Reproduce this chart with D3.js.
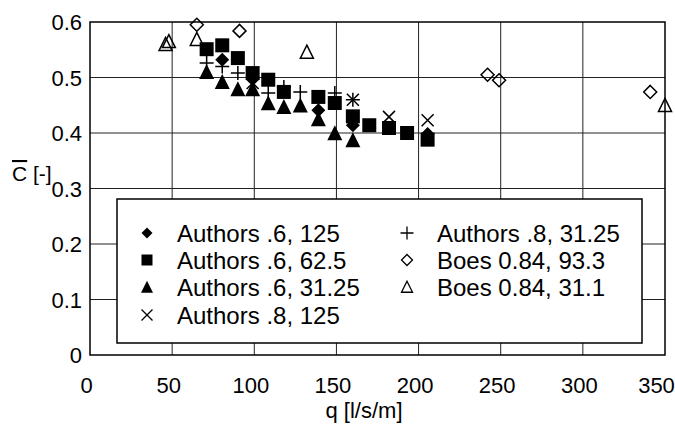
<!DOCTYPE html>
<html>
<head>
<meta charset="utf-8">
<script src="https://cdn.jsdelivr.net/npm/d3@7"></script>
<style>
  html, body { margin: 0; padding: 0; background: #fff; }
  svg { display: block; font-family: "Liberation Sans", Arial, sans-serif; }
</style>
</head>
<body>
<svg id="chart" width="675" height="429"></svg>
<script>
// ---- data ----
const xTicks = [0, 50, 100, 150, 200, 250, 300, 350];
const yTicks = [0, 0.1, 0.2, 0.3, 0.4, 0.5, 0.6];
const yTickLabels = ["0", "0.1", "0.2", "0.3", "0.4", "0.5", "0.6"];

const seriesNames = ["Authors .6, 125", "Authors .6, 62.5", "Authors .6, 31.25",
  "Authors .8, 125", "Authors .8, 31.25", "Boes 0.84, 93.3", "Boes 0.84, 31.1"];

const a6_125_x = [80.5, 99, 139, 160, 205.5];
const a6_125_y = [0.532, 0.497, 0.441, 0.414, 0.398];

const a6_62_x = [71, 80.5, 90, 99, 108.5, 118, 139, 149, 160, 170, 182, 193, 205.5];
const a6_62_y = [0.551, 0.558, 0.535, 0.508, 0.496, 0.474, 0.465, 0.454, 0.43, 0.414, 0.409, 0.4, 0.388];

const a6_31_x = [71, 80.5, 90, 99, 108.5, 118, 128, 139, 149, 160];
const a6_31_y = [0.51, 0.492, 0.479, 0.479, 0.454, 0.447, 0.45, 0.425, 0.4, 0.387];

const a8_125_x = [99, 160, 182, 205.5];
const a8_125_y = [0.49, 0.46, 0.429, 0.423];

const a8_31_x = [71, 80.5, 90, 108.5, 118, 128, 149, 160];
const a8_31_y = [0.526, 0.52, 0.508, 0.472, 0.483, 0.474, 0.472, 0.46];

const boes93_x = [65, 91, 242, 249, 341];
const boes93_y = [0.595, 0.584, 0.505, 0.495, 0.474];

const boes31_x = [46, 48, 65, 132, 350];
const boes31_y = [0.56, 0.565, 0.569, 0.546, 0.45];

// ---- layout ----
const W = 675, H = 429;
const m = { left: 90, right: 10, top: 22, bottom: 74 };
const svg = d3.select("#chart");
const x = d3.scaleLinear().domain([0, 350]).range([m.left, W - m.right]);
const y = d3.scaleLinear().domain([0, 0.6]).range([H - m.bottom, m.top]);

// custom marker shapes (size = half-width in px)
const shapes = {
  diamond: { draw(c, r) { c.moveTo(0, -r); c.lineTo(r, 0); c.lineTo(0, r); c.lineTo(-r, 0); c.closePath(); } },
  square: { draw(c, r) { c.rect(-r, -r, 2 * r, 2 * r); } },
  triangle: { draw(c, r) { c.moveTo(0, -r * 1.05); c.lineTo(r, r * 0.95); c.lineTo(-r, r * 0.95); c.closePath(); } },
  cross: { draw(c, r) { c.moveTo(-r, -r); c.lineTo(r, r); c.moveTo(r, -r); c.lineTo(-r, r); } },
  plus: { draw(c, r) { c.moveTo(-r, 0); c.lineTo(r, 0); c.moveTo(0, -r); c.lineTo(0, r); } }
};

const series = [
  { name: seriesNames[0], xs: a6_125_x, ys: a6_125_y, shape: "diamond", r: 7, fill: "#000", stroke: "none", lr: 5.5 },
  { name: seriesNames[1], xs: a6_62_x, ys: a6_62_y, shape: "square", r: 7, fill: "#000", stroke: "none", lr: 5.5 },
  { name: seriesNames[2], xs: a6_31_x, ys: a6_31_y, shape: "triangle", r: 7.5, fill: "#000", stroke: "none", lr: 6 },
  { name: seriesNames[3], xs: a8_125_x, ys: a8_125_y, shape: "cross", r: 6, fill: "none", stroke: "#000", lr: 5.5 },
  { name: seriesNames[4], xs: a8_31_x, ys: a8_31_y, shape: "plus", r: 7, fill: "none", stroke: "#000", lr: 6.5 },
  { name: seriesNames[5], xs: boes93_x, ys: boes93_y, shape: "diamond", r: 6.5, fill: "none", stroke: "#000", lr: 5.5 },
  { name: seriesNames[6], xs: boes31_x, ys: boes31_y, shape: "triangle", r: 6.5, fill: "none", stroke: "#000", lr: 5.5 }
];

// ---- grid ----
const grid = svg.append("g");
grid.selectAll("line.v").data(xTicks.slice(1, -1)).join("line")
  .attr("x1", d => x(d)).attr("x2", d => x(d))
  .attr("y1", y(0)).attr("y2", y(0.6))
  .attr("stroke", "#222").attr("stroke-width", 1);
grid.selectAll("line.h").data(yTicks.slice(1, -1)).join("line")
  .attr("x1", x(0)).attr("x2", x(350))
  .attr("y1", d => y(d)).attr("y2", d => y(d))
  .attr("stroke", "#222").attr("stroke-width", 1);

// frame
svg.append("rect")
  .attr("x", x(0)).attr("y", y(0.6))
  .attr("width", x(350) - x(0)).attr("height", y(0) - y(0.6))
  .attr("fill", "none").attr("stroke", "#000").attr("stroke-width", 1.5);

// ---- axes ----
const xAxis = d3.axisBottom(x).tickValues(xTicks).tickSize(0).tickPadding(0).tickFormat(d3.format("d"));
const gx = svg.append("g").attr("transform", `translate(0,${y(0)})`).call(xAxis);
gx.select(".domain").remove();
gx.selectAll("text").attr("font-size", 22).attr("fill", "#000")
  .attr("font-family", "Liberation Sans, Arial, sans-serif")
  .attr("dy", null).attr("y", 38)
  .attr("dx", (d, i) => i === xTicks.length - 1 ? -9 : -4);

const yAxis = d3.axisLeft(y).tickValues(yTicks).tickSize(0).tickPadding(0)
  .tickFormat((d, i) => yTickLabels[i]);
const gy = svg.append("g").attr("transform", `translate(${x(0)},0)`).call(yAxis);
gy.select(".domain").remove();
gy.selectAll("text").attr("font-size", 22).attr("fill", "#000")
  .attr("font-family", "Liberation Sans, Arial, sans-serif")
  .attr("x", -8).attr("dy", "0.36em");

// axis titles
svg.append("text").attr("x", 364).attr("y", 418).attr("text-anchor", "middle")
  .attr("font-size", 22).text("q [l/s/m]");
const yl = svg.append("text").attr("x", 12).attr("y", 181).attr("font-size", 21);
yl.append("tspan").attr("text-decoration", "overline").text("C");
yl.append("tspan").text(" [-]");

// ---- points ----
series.forEach(s => {
  const sym = d3.symbol().type(shapes[s.shape]).size(s.r);
  svg.append("g").selectAll("path").data(s.xs.map((v, i) => [v, s.ys[i]])).join("path")
    .attr("transform", d => `translate(${x(d[0])},${y(d[1])})`)
    .attr("d", sym)
    .attr("fill", s.fill).attr("stroke", s.stroke).attr("stroke-width", 1.5);
});

// ---- legend ----
const lg = svg.append("g");
lg.append("rect").attr("x", 117).attr("y", 199).attr("width", 525).attr("height", 144)
  .attr("fill", "#fff").attr("stroke", "#000").attr("stroke-width", 1.5);
const legendPos = [[147, 233], [147, 260], [147, 287], [147, 315], [407, 233], [407, 260], [407, 287]];
series.forEach((s, i) => {
  const [lx, ly] = legendPos[i];
  lg.append("path").attr("transform", `translate(${lx},${ly})`)
    .attr("d", d3.symbol().type(shapes[s.shape]).size(s.lr))
    .attr("fill", s.fill).attr("stroke", s.stroke).attr("stroke-width", 1.3);
  lg.append("text").attr("x", lx + 30).attr("y", ly).attr("dy", "0.36em")
    .attr("font-size", 24).text(s.name);
});
</script>
</body>
</html>
